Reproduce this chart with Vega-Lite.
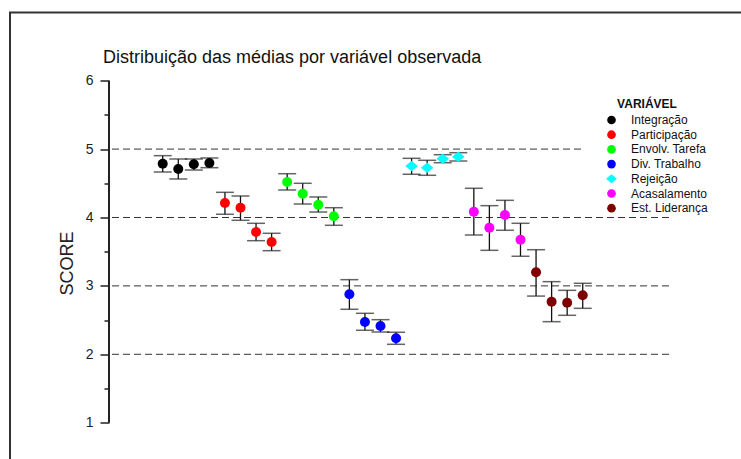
{
  "$schema": "https://vega.github.io/schema/vega-lite/v6.json",
  "autosize": "none",
  "width": 736,
  "height": 451.5,
  "padding": {"left": 10, "top": 12.5, "right": -5, "bottom": -5},
  "background": "white",
  "title": {
    "text": "Distribuição das médias por variável observada",
    "anchor": "start",
    "frame": "group",
    "orient": "top",
    "offset": 0,
    "baseline": "alphabetic",
    "dx": 93,
    "dy": 68,
    "font": "Liberation Sans",
    "fontSize": 18,
    "fontWeight": "normal",
    "color": "#111"
  },
  "config": {
    "font": "Liberation Sans",
    "view": {"stroke": "#333", "strokeWidth": 2}
  },
  "datasets": {
    "medias": [
      {"var": "Integração", "i": 1, "mean": 4.787, "lo": 4.665, "hi": 4.904},
      {"var": "Integração", "i": 2, "mean": 4.709, "lo": 4.563, "hi": 4.855},
      {"var": "Integração", "i": 3, "mean": 4.778, "lo": 4.694, "hi": 4.855},
      {"var": "Integração", "i": 4, "mean": 4.797, "lo": 4.728, "hi": 4.870},
      {"var": "Participação", "i": 5, "mean": 4.212, "lo": 4.047, "hi": 4.368},
      {"var": "Participação", "i": 6, "mean": 4.143, "lo": 3.959, "hi": 4.314},
      {"var": "Participação", "i": 7, "mean": 3.788, "lo": 3.661, "hi": 3.915},
      {"var": "Participação", "i": 8, "mean": 3.642, "lo": 3.515, "hi": 3.769},
      {"var": "Envolv. Tarefa", "i": 9, "mean": 4.519, "lo": 4.402, "hi": 4.640},
      {"var": "Envolv. Tarefa", "i": 10, "mean": 4.348, "lo": 4.197, "hi": 4.500},
      {"var": "Envolv. Tarefa", "i": 11, "mean": 4.187, "lo": 4.080, "hi": 4.300},
      {"var": "Envolv. Tarefa", "i": 12, "mean": 4.017, "lo": 3.886, "hi": 4.143},
      {"var": "Div. Trabalho", "i": 13, "mean": 2.877, "lo": 2.658, "hi": 3.091},
      {"var": "Div. Trabalho", "i": 14, "mean": 2.472, "lo": 2.351, "hi": 2.599},
      {"var": "Div. Trabalho", "i": 15, "mean": 2.414, "lo": 2.326, "hi": 2.506},
      {"var": "Div. Trabalho", "i": 16, "mean": 2.234, "lo": 2.146, "hi": 2.322},
      {"var": "Rejeição", "i": 17, "mean": 4.753, "lo": 4.632, "hi": 4.865},
      {"var": "Rejeição", "i": 18, "mean": 4.728, "lo": 4.617, "hi": 4.836},
      {"var": "Rejeição", "i": 19, "mean": 4.860, "lo": 4.801, "hi": 4.918},
      {"var": "Rejeição", "i": 20, "mean": 4.889, "lo": 4.826, "hi": 4.947},
      {"var": "Acasalamento", "i": 21, "mean": 4.085, "lo": 3.744, "hi": 4.427},
      {"var": "Acasalamento", "i": 22, "mean": 3.851, "lo": 3.520, "hi": 4.173},
      {"var": "Acasalamento", "i": 23, "mean": 4.036, "lo": 3.813, "hi": 4.251},
      {"var": "Acasalamento", "i": 24, "mean": 3.675, "lo": 3.433, "hi": 3.915},
      {"var": "Est. Liderança", "i": 25, "mean": 3.199, "lo": 2.851, "hi": 3.529},
      {"var": "Est. Liderança", "i": 26, "mean": 2.769, "lo": 2.477, "hi": 3.062},
      {"var": "Est. Liderança", "i": 27, "mean": 2.754, "lo": 2.570, "hi": 2.935},
      {"var": "Est. Liderança", "i": 28, "mean": 2.862, "lo": 2.672, "hi": 3.038}
    ],
    "grid": [{"g": 2}, {"g": 3}, {"g": 4}, {"g": 5}]
  },
  "layer": [
    {
      "data": {"name": "grid"},
      "mark": {"type": "rule", "strokeDash": [7, 4], "color": "#333", "strokeWidth": 1},
      "encoding": {
        "y": {"field": "g", "type": "quantitative", "scale": {"domain": [0.396, 6.997], "nice": false, "zero": false},
          "axis": {
            "values": [1, 1.5, 2, 2.5, 3, 3.5, 4, 4.5, 5, 5.5, 6],
            "labelExpr": "datum.value % 1 == 0 ? format(datum.value, 'd') : ''",
            "domain": false, "grid": false, "offset": -99,
            "tickSize": {"condition": {"test": "datum.value % 1 == 0", "value": 9}, "value": 5},
            "tickColor": "#222", "tickWidth": 1.5,
            "labelFont": "Liberation Sans", "labelFontSize": 14, "labelColor": "#222", "labelPadding": 7,
            "title": "SCORE", "titleFont": "Liberation Sans", "titleFontSize": 18, "titleFontWeight": "normal", "titleColor": "#222",
            "titleAngle": -90, "titleX": -37, "titleY": 250.5, "titleAlign": "center", "titleBaseline": "alphabetic"
          }
        },
        "x": {"datum": -2.26, "type": "quantitative", "scale": {"domain": [-8.817, 38.496], "nice": false, "zero": false}, "axis": null},
        "x2": {"datum": 33.61}
      }
    },
    {
      "data": {"values": [{}]},
      "mark": {"type": "rule", "color": "#222", "strokeWidth": 2},
      "encoding": {
        "x": {"datum": -2.453, "type": "quantitative"},
        "y": {"datum": 1, "type": "quantitative"},
        "y2": {"datum": 6}
      }
    },
    {
      "data": {"name": "medias"},
      "mark": {"type": "rule", "color": "#111", "strokeWidth": 1.3},
      "encoding": {
        "x": {"field": "i", "type": "quantitative"},
        "y": {"field": "lo", "type": "quantitative"},
        "y2": {"field": "hi"}
      }
    },
    {
      "data": {"name": "medias"},
      "mark": {"type": "tick", "orient": "horizontal", "color": "#222", "size": 18, "thickness": 1.5},
      "encoding": {
        "x": {"field": "i", "type": "quantitative"},
        "y": {"field": "lo", "type": "quantitative"}
      }
    },
    {
      "data": {"name": "medias"},
      "mark": {"type": "tick", "orient": "horizontal", "color": "#222", "size": 18, "thickness": 1.5},
      "encoding": {
        "x": {"field": "i", "type": "quantitative"},
        "y": {"field": "hi", "type": "quantitative"}
      }
    },
    {
      "data": {"name": "medias"},
      "mark": {"type": "point", "filled": true, "opacity": 1, "size": 100, "strokeWidth": 0},
      "encoding": {
        "x": {"field": "i", "type": "quantitative"},
        "y": {"field": "mean", "type": "quantitative"},
        "color": {
          "field": "var", "type": "nominal",
          "scale": {
            "domain": ["Integração", "Participação", "Envolv. Tarefa", "Div. Trabalho", "Rejeição", "Acasalamento", "Est. Liderança"],
            "range": ["#000000", "#ff0000", "#00ff00", "#0000ff", "#00ffff", "#ff00ff", "#800000"]
          },
          "legend": {
            "title": "VARIÁVEL", "orient": "none", "legendX": 574, "legendY": 84.5,
            "padding": 2, "fillColor": "white", "strokeColor": null,
            "symbolOffset": 19.5, "symbolSize": 75, "symbolStrokeWidth": 0, "symbolOpacity": 1,
            "labelOffset": 13.5, "labelFont": "Liberation Sans", "labelFontSize": 12, "labelColor": "#111",
            "titleFont": "Liberation Sans", "titleFontSize": 12, "titleFontWeight": "bold", "titleColor": "#111",
            "titleAnchor": "middle", "titleAlign": "center", "titlePadding": 3, "rowPadding": 2.7
          }
        },
        "shape": {
          "field": "var", "type": "nominal",
          "scale": {
            "domain": ["Integração", "Participação", "Envolv. Tarefa", "Div. Trabalho", "Rejeição", "Acasalamento", "Est. Liderança"],
            "range": ["circle", "circle", "circle", "circle", "M-1.25,0L0,-1.05L1.25,0L0,1.05Z", "circle", "circle"]
          },
          "legend": {"title": "VARIÁVEL"}
        }
      }
    }
  ]
}
